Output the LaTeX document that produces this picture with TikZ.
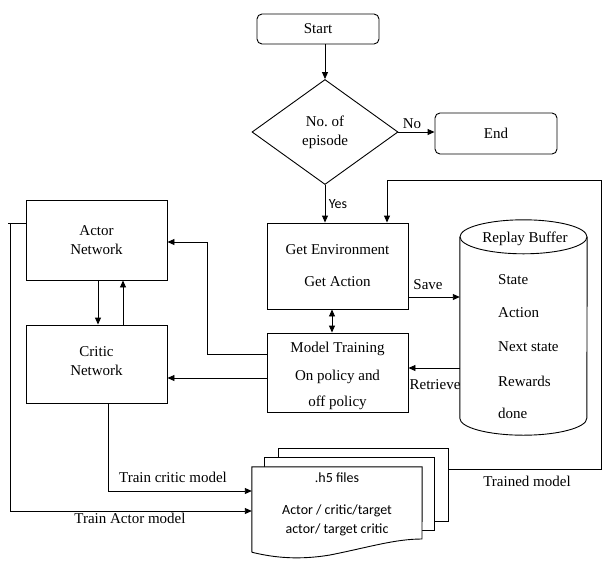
\documentclass[tikz,border=0pt]{standalone}
\usepackage{fontspec}
\setmainfont{Liberation Serif}
\newfontfamily\calfont{Carlito}
\usetikzlibrary{shapes.geometric,arrows.meta,calc}
\begin{document}
\begin{tikzpicture}[x=1pt,y=-1pt,
  every node/.style={font=\fontsize{15}{19}\selectfont},
  >={Triangle[length=7pt,width=6pt]},
  ln/.style={line width=0.9pt},
  conn/.style={draw, line width=0.9pt, ->},
  box/.style={draw, line width=0.9pt, minimum width=141pt, inner sep=0pt, align=center},
  rbox/.style={draw, line width=0.9pt, rounded corners=5pt, minimum width=122pt, inner sep=0pt},
  lbl/.style={inner sep=0pt},
  sf/.style={font=\calfont\fontsize{14}{19}\selectfont}]
\useasboundingbox (0,0) rectangle (614,582);

% main nodes
\node[rbox, minimum height=30pt] (start) at (318,29) {Start};
\node[draw, ln, diamond, aspect=1.39, minimum width=146pt, minimum height=105pt, inner sep=0pt, align=center] (dec) at (325,132) {No.\ of\\episode};
\node[rbox, minimum height=41pt] (end) at (496,133.5) {End};
\node[box, minimum height=86pt] (env) at (337.5,266) {Get Environment\\[13pt]Get Action};
\node[box, minimum height=79pt] (train) at (337.5,372.5) {\rule{0pt}{18pt}Model Training\\[9pt]On policy and\\[7pt]off policy};
\node[box, minimum height=80pt] (actor) at (96.5,240) {Actor\\Network};
\node[box, minimum height=78pt] (critic) at (96.5,364) {Critic\\Network\rule[-6pt]{0pt}{6pt}};

% replay buffer cylinder
\node[minimum width=127pt, minimum height=181pt, inner sep=0pt] (buf) at (523.5,327.5) {};
\draw[ln] (buf.north west) -- (buf.south west) arc[start angle=180,end angle=0,x radius=63.5,y radius=17] -- (buf.north east);
\draw[ln] (buf.north) ellipse[x radius=63.5,y radius=17];
\node[lbl] (rb) at (525,239) {Replay Buffer};
\node[lbl, anchor=west] (b1) at (498,280) {State};
\node[lbl, anchor=west] (b2) at (498,313) {Action};
\node[lbl, anchor=west] (b3) at (498,347) {Next state};
\node[lbl, anchor=west] (b4) at (498,381) {Rewards};
\node[lbl, anchor=west] (b5) at (498,413) {done};

% document stack
\draw[ln] (278,457) -- (278,448) -- (448,448) -- (448,521) -- (434,521);
\draw[ln] (264,467) -- (264,457) -- (434,457) -- (434,530) -- (422,530);
\node[minimum width=170pt, minimum height=85pt, inner sep=0pt] (doc) at (337,509.5) {};
\draw[ln, fill=white] (doc.south west) -- (doc.north west) -- (doc.north east) -- (422,539)
  .. controls (395,539) and (370,547) .. (330,555)
  .. controls (300,560) and (275,558) .. (doc.south west);
\node[lbl, sf] (h5) at (337,478) {.h5 files};
\node[lbl, sf, align=center] (dt) at (337,520.5) {Actor / critic/target\\actor/ target critic};

% connectors
\draw[conn] (start.south -| dec.north) -- (dec.north);
\draw[conn] (dec.east) -- (dec.east -| end.west);
\node[lbl] (lno) at (412,124) {No};
\draw[conn] (dec.south) -- (dec.south |- env.north);
\node[lbl, sf] (lyes) at (338,204) {Yes};

\coordinate (tm) at (448,469);
\draw[conn] (tm) -- (601,469) -- (601,180) -- (387,180) -- (387,180 |- env.north);
\node[lbl] (ltm) at (527,481) {Trained model};

\draw[conn] ($(env.east)+(0,31)$) coordinate (sv) -- (sv -| buf.west);
\node[lbl] (lsave) at (428,285) {Save};
\draw[conn] ($(buf.west)+(0,40.5)$) coordinate (rt) -- (rt -| train.east);
\node[lbl] (lret) at (435,385) {Retrieve};

\draw[conn, <->] (env.south -| 332,0) -- (train.north -| 332,0);
\draw[conn] ($(train.west)+(0,-18.5)$) -- (207,354) -- (207,242) -- (actor.east |- 0,242);
\draw[conn] ($(train.west)+(0,5.5)$) coordinate (tc) -- (tc -| critic.east);
\draw[conn] (actor.south -| 98,0) -- (critic.north -| 98,0);
\draw[conn] (critic.north -| 123,0) -- (actor.south -| 123,0);

\draw[ln] ($(actor.west)+(0,-17)$) -- (8,223);
\draw[conn] (10,223) -- (10,511) -- (doc.west |- 0,511);
\node[lbl] (lta) at (130,518) {Train Actor model};
\draw[conn] (critic.south -| 108,0) -- (108,491) -- (doc.west |- 0,491);
\node[lbl] (ltc) at (173,477) {Train critic model};
\end{tikzpicture}
\end{document}
